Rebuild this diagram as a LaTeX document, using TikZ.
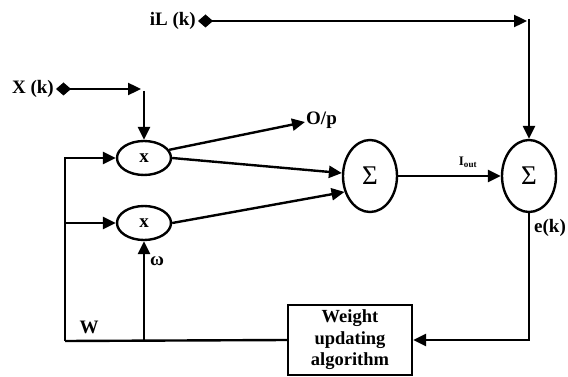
\documentclass[tikz,border=0pt]{standalone}
\usepackage{fontspec}
\setmainfont{Liberation Serif}
\usetikzlibrary{arrows.meta,shapes.geometric}
\begin{document}
\begin{tikzpicture}[x=1pt,y=-1pt,
  line width=2.4pt,
  >={Triangle[length=13pt,width=12pt]},
  lbl/.style={font=\fontsize{19}{19}\selectfont\bfseries, inner sep=0pt},
  mult/.style={draw, ellipse, minimum width=54pt, minimum height=34pt, inner sep=0pt, font=\fontsize{19}{19}\selectfont\bfseries},
  sumnode/.style={draw, ellipse, minimum width=54pt, minimum height=72pt, inner sep=0pt, font=\fontsize{27}{27}\selectfont},
  algbox/.style={draw, minimum width=124pt, minimum height=70pt, inner sep=0pt, align=center, font=\fontsize{18.5}{21.5}\selectfont\bfseries},
  dia/.style={{Diamond[length=15pt,width=13pt]}-{Triangle[length=13pt,width=12pt]}}
]
\useasboundingbox (0,0) rectangle (568,377);

\node[mult] (m1) at (144,158) {x};
\node[mult] (m2) at (144,223) {x};
\node[sumnode] (s1) at (370,176) {Σ};
\node[sumnode] (s2) at (529,176) {Σ};
\node[algbox] (alg) at (350,340) {Weight\\updating\\algorithm};

\node[lbl, anchor=east] (xk) at (55,89) {X (k)};
\node[lbl, anchor=east] (il) at (197,21) {iL (k)};
\node[lbl, anchor=west] (op) at (305,120) {O/p};
\node[lbl] (w) at (89,327) {W};
\node[lbl] (om) at (157,261) {ω};
\node[lbl, anchor=west] (ek) at (533,228) {e(k)};
\node[inner sep=0pt, font=\fontsize{13}{13}\selectfont\bfseries] (iout) at (468,162) {I\textsubscript{out}};

\coordinate (xke) at (141,89);
\coordinate (xkd) at (144,91);
\coordinate (ile) at (527,21);
\coordinate (ild) at (529,19);
\coordinate (fbl) at (65,341);
\coordinate (wb) at (144,341);
\coordinate (opt) at (305,122);

\draw[dia] ([xshift=1pt]xk.east) -- (xke);
\draw[->] (xkd) -- (m1.north);
\draw[dia] ([xshift=1pt]il.east) -- (ile);
\draw[->] (ild) -- (s2.north);
\draw[->] (m1.18) -- (opt);
\draw[->] (m1.east) -- (s1.174);
\draw[->] (m2.east) -- (s1.212);
\draw[->] (s1.east) -- (s2.west);
\draw[->] (s2.south) |- (alg.east);
\draw[->] (fbl) |- (m1.west);
\draw[->] (fbl |- m2.west) -- (m2.west);
\draw (fbl) -- (alg.west);
\draw[->] (wb) -- (m2.south);
\end{tikzpicture}
\end{document}
